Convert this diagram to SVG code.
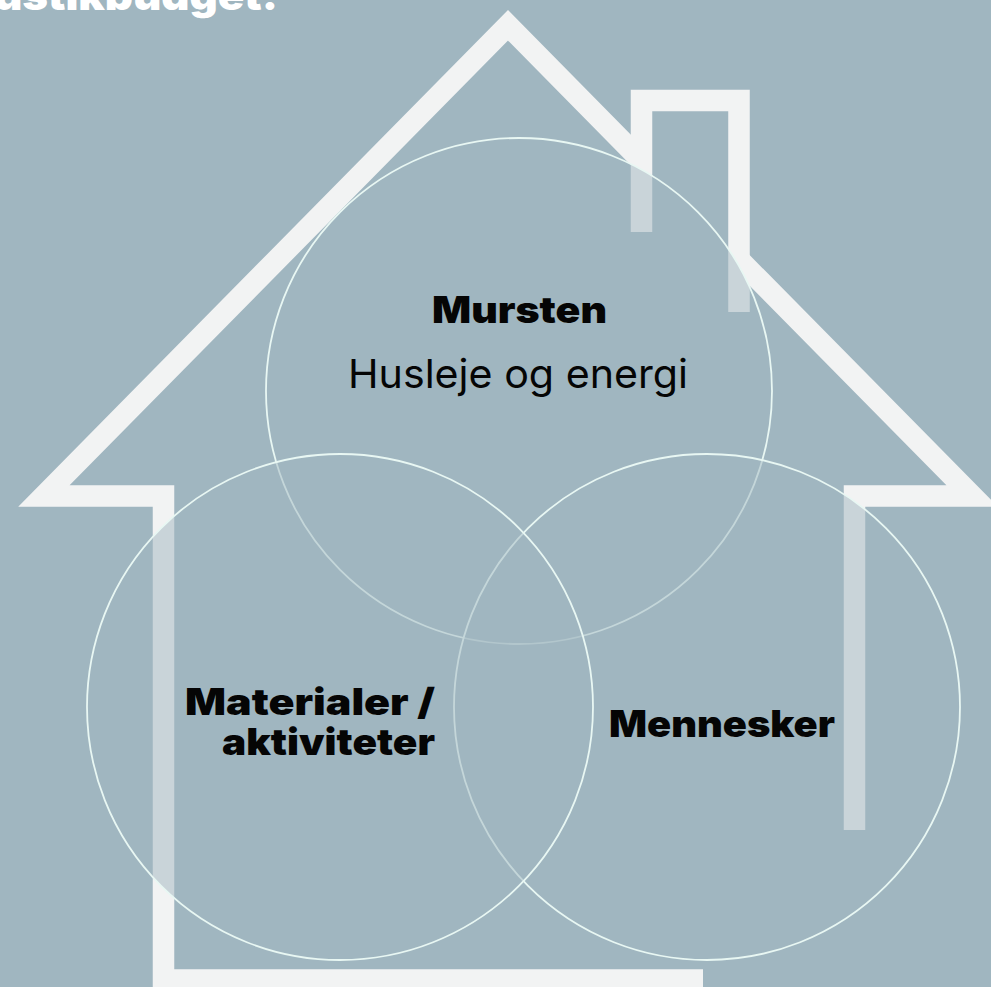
<svg xmlns="http://www.w3.org/2000/svg" width="991" height="987" viewBox="0 0 991 987">
<style>
.house{fill:none;stroke:#f2f3f3;stroke-width:21.5;stroke-linejoin:miter;stroke-miterlimit:10}
.circ{fill:#a0b6c0;fill-opacity:0.5;stroke:#e8f7f3;stroke-width:1.8}
.hd{font-family:Inter,Lato,"Liberation Sans",sans-serif;font-weight:900;fill:#050505;font-variant-ligatures:none}
.rg{font-family:Inter,Lato,"Liberation Sans",sans-serif;font-weight:400;fill:#050505;font-variant-ligatures:none}
</style>
<rect width="991" height="987" fill="#a0b6c0"/>
<text x="-6" y="10" font-family="Inter,Lato,'Liberation Sans',sans-serif" font-weight="900" font-size="40" fill="#ffffff" textLength="284" lengthAdjust="spacingAndGlyphs">ustikbudget.</text>
<g id="house">
<path class="house" d="M703,980 H163.5 V496 H43.9 L508,25.3 L641.5,160.7"/>
<path class="house" d="M641.5,232 V100.5 H739 V312"/>
<path class="house" d="M739,259.6 L972.1,496 H854.5 V830"/>
</g>
<g id="connectors"></g>
<g id="mursten">
<circle class="circ" cx="519" cy="391" r="253"/>
</g>
<g id="mennesker">
<circle class="circ" cx="707" cy="707" r="253"/>
</g>
<g id="materialer">
<circle class="circ" cx="340" cy="707" r="253"/>
</g>
<g id="labels">
<text class="hd" x="432" y="323" font-size="37" textLength="175" lengthAdjust="spacingAndGlyphs">Mursten</text>
<text class="rg" x="348" y="388" font-size="40" textLength="340" lengthAdjust="spacingAndGlyphs">Husleje og energi</text>
<text class="hd" x="185" y="715" font-size="37" textLength="250" lengthAdjust="spacingAndGlyphs">Materialer /</text>
<text class="hd" x="222" y="755" font-size="37" textLength="213" lengthAdjust="spacingAndGlyphs">aktiviteter</text>
<text class="hd" x="609" y="737" font-size="37" textLength="226" lengthAdjust="spacingAndGlyphs">Mennesker</text>
</g>
</svg>
